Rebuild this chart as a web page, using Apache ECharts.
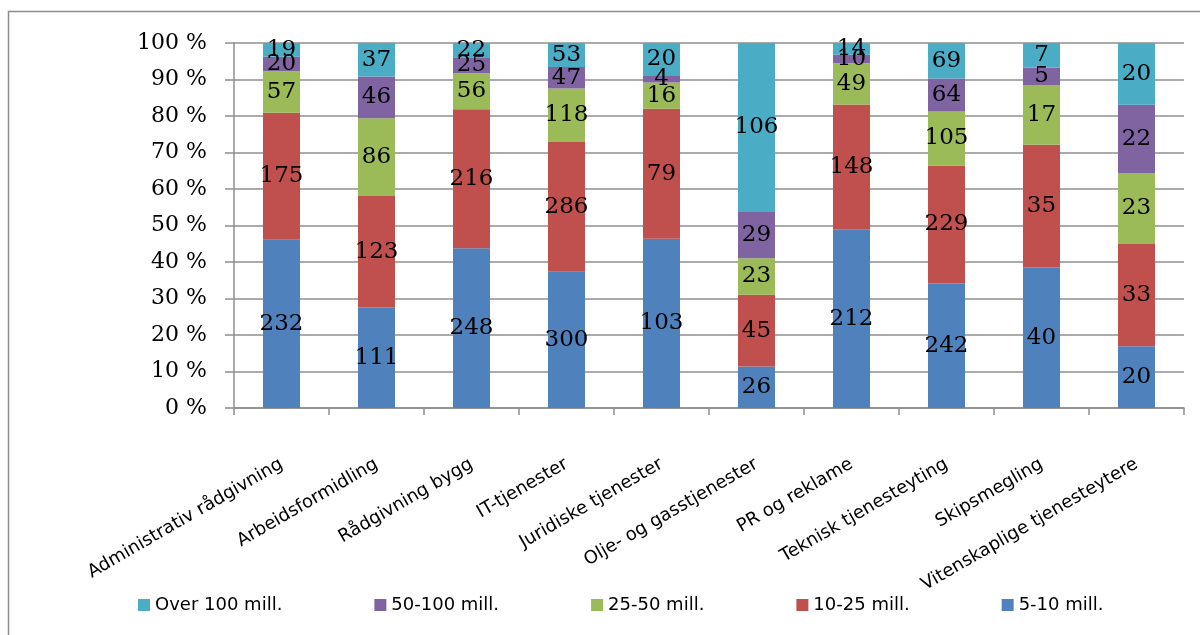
<!DOCTYPE html>
<html>
<head>
<meta charset="utf-8">
<script src="https://cdn.jsdelivr.net/npm/echarts@6/dist/echarts.min.js"></script>
<style>
  html, body { margin: 0; padding: 0; background: #fff; }
  #chart { width: 1200px; height: 635px; }
</style>
</head>
<body>
<div id="chart"></div>
<script>
// Industries along the x axis
const categories = [
  'Administrativ rådgivning', 'Arbeidsformidling', 'Rådgivning bygg', 'IT-tjenester',
  'Juridiske tjenester', 'Olje- og gasstjenester', 'PR og reklame',
  'Teknisk tjenesteyting', 'Skipsmegling', 'Vitenskaplige tjenesteytere'
];

// Number of firms per turnover band (stacked bottom to top)
const band5to10   = [232, 111, 248, 300, 103, 26, 212, 242, 40, 20];
const band10to25  = [175, 123, 216, 286, 79, 45, 148, 229, 35, 33];
const band25to50  = [57, 86, 56, 118, 16, 23, 49, 105, 17, 23];
const band50to100 = [20, 46, 25, 47, 4, 29, 10, 64, 5, 22];
const bandOver100 = [19, 37, 22, 53, 20, 106, 14, 69, 7, 20];

const seriesNames = ['5-10 mill.', '10-25 mill.', '25-50 mill.', '50-100 mill.', 'Over 100 mill.'];
const seriesColors = ['#4F81BD', '#C0504D', '#9BBB59', '#8064A2', '#4BACC6'];
const legendOrder = ['Over 100 mill.', '50-100 mill.', '25-50 mill.', '10-25 mill.', '5-10 mill.'];
const yTicks = [0, 10, 20, 30, 40, 50, 60, 70, 80, 90, 100];

const bands = [band5to10, band10to25, band25to50, band50to100, bandOver100];
const totals = categories.map((_, i) => bands.reduce((s, b) => s + b[i], 0));

const gridGray = '#8f8f8f';

const series = bands.map((band, k) => ({
  name: seriesNames[k],
  type: 'bar',
  stack: 'share',
  barWidth: 37,
  itemStyle: { color: seriesColors[k] },
  data: band.map((v, i) => ({ value: v / totals[i] * 100, count: v })),
  label: {
    show: true,
    position: 'inside',
    color: '#000',
    fontFamily: 'DejaVu Serif',
    fontSize: 23,
    formatter: p => String(p.data.count)
  },
  emphasis: { disabled: true }
}));

const chart = echarts.init(document.getElementById('chart'), null, { renderer: 'canvas' });
chart.setOption({
  animation: false,
  backgroundColor: '#fff',
  graphic: [{
    type: 'rect',
    shape: { x: 8.5, y: 11.5, width: 1300, height: 700 },
    style: { fill: 'none', stroke: '#8c8c8c', lineWidth: 1.5 },
    silent: true
  }],
  grid: { left: 234, right: 16, top: 43, bottom: 227, containLabel: false },
  legend: {
    data: legendOrder,
    left: 133,
    top: 591,
    itemWidth: 12,
    itemHeight: 12,
    itemGap: 92,
    icon: 'rect',
    textStyle: { fontFamily: 'DejaVu Sans', fontSize: 18, color: '#000' }
  },
  xAxis: {
    type: 'category',
    data: categories,
    axisLine: { lineStyle: { color: gridGray, width: 1.5 } },
    axisTick: { show: true, length: 7, lineStyle: { color: gridGray, width: 1.5 } },
    axisLabel: {
      rotate: 30,
      margin: 55,
      interval: 0,
      color: '#000',
      fontFamily: 'DejaVu Sans',
      fontSize: 18
    }
  },
  yAxis: {
    type: 'value',
    min: yTicks[0],
    max: yTicks[yTicks.length - 1],
    interval: 10,
    axisLine: { show: true, lineStyle: { color: gridGray, width: 1.5 } },
    axisTick: { show: true, length: 9, lineStyle: { color: gridGray, width: 1.5 } },
    splitLine: { show: true, lineStyle: { color: gridGray, width: 1.5 } },
    axisLabel: {
      margin: 27,
      color: '#000',
      fontFamily: 'DejaVu Serif',
      fontSize: 22,
      formatter: '{value} %'
    }
  },
  series: series
});
</script>
</body>
</html>
